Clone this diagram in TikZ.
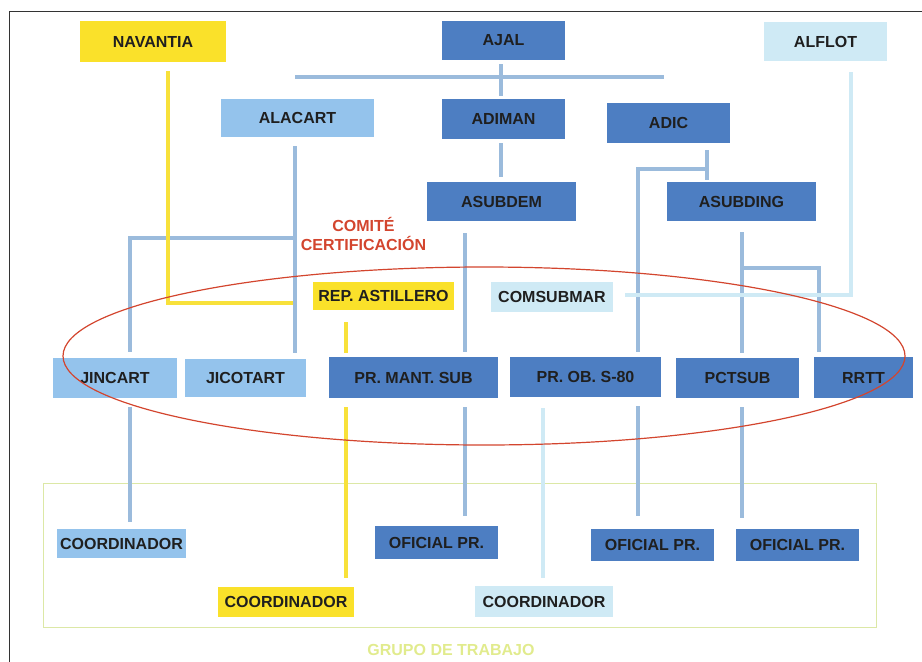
\documentclass[tikz,border=0pt]{standalone}
\usepackage{fontspec}
\setmainfont{Liberation Sans}

\definecolor{boxdark}{HTML}{4D7EC2}
\definecolor{boxlight}{HTML}{94C3EC}
\definecolor{boxpale}{HTML}{CFEAF5}
\definecolor{boxyellow}{HTML}{FAE12A}
\definecolor{linkblue}{HTML}{9BBBDC}
\definecolor{linkcyan}{HTML}{CFEAF5}
\definecolor{linkyellow}{HTML}{F8E13A}
\definecolor{comitered}{HTML}{D3452E}
\definecolor{grupogreen}{HTML}{DCE8A6}

\begin{document}
\begin{tikzpicture}[x=1pt,y=-1pt,
	box/.style={inner sep=0pt, font=\fontsize{16}{18.5}\selectfont\bfseries, text=black!88},
	dark/.style={box, fill=boxdark},
	light/.style={box, fill=boxlight},
	pale/.style={box, fill=boxpale},
	yell/.style={box, fill=boxyellow},
	conn/.style={draw=linkblue, line width=3.6pt},
	cconn/.style={draw=linkcyan, line width=3.6pt},
	yconn/.style={draw=linkyellow, line width=3.6pt}]
	\useasboundingbox (0,0) rectangle (922,662);
	\draw[black!80, line width=0.8pt] (922,11) -- (9,11) -- (9,662);

	% grupo de trabajo
	\draw[grupogreen, line width=0.9pt] (43,483) rectangle (876,627);
	\node[box, text=grupogreen!85!yellow] (grupo) at (451,650) {GRUPO DE TRABAJO};

	% columns of the connectors
	\coordinate (cJin) at (130,0);
	\coordinate (cNav) at (168,0);
	\coordinate (cAla) at (295,0);
	\coordinate (cRep) at (346,0);
	\coordinate (cDem) at (465,0);
	\coordinate (cAjal) at (501,0);
	\coordinate (cCom) at (543,0);
	\coordinate (cAdic) at (638,0);
	\coordinate (cDic) at (707,0);
	\coordinate (cIng) at (742,0);
	\coordinate (cRr) at (819,0);
	\coordinate (cAlf) at (851,0);

	% top row
	\node[yell, minimum width=146, minimum height=41] (navantia) at (153,41.5) {NAVANTIA};
	\node[dark, minimum width=123, minimum height=39] (ajal) at (503.5,40.5) {AJAL};
	\node[pale, minimum width=123, minimum height=39] (alflot) at (825.5,41.5) {ALFLOT};

	\node[light, minimum width=153, minimum height=38] (alacart) at (297.5,118) {ALACART};
	\node[dark, minimum width=123, minimum height=40] (adiman) at (503.5,119) {ADIMAN};
	\node[dark, minimum width=123, minimum height=40] (adic) at (668.5,123) {ADIC};

	\node[dark, minimum width=149, minimum height=39] (asubdem) at (501.5,201.5) {ASUBDEM};
	\node[dark, minimum width=149, minimum height=39] (asubding) at (741.5,201.5) {ASUBDING};

	\node[yell, minimum width=141, minimum height=28] (repast) at (383.5,296) {REP. ASTILLERO};
	\node[pale, minimum width=122, minimum height=30] (comsubmar) at (552,297) {COMSUBMAR};

	% middle row
	\node[light, minimum width=124, minimum height=40] (jincart) at (115,377.5) {JINCART};
	\node[light, minimum width=121, minimum height=38] (jicotart) at (245.5,377.5) {JICOTART};
	\node[dark, minimum width=169, minimum height=41] (prmant) at (413.5,377.5) {PR. MANT. SUB};
	\node[dark, minimum width=151, minimum height=40] (prob) at (585.5,377) {PR. OB. S-80};
	\node[dark, minimum width=123, minimum height=40] (pctsub) at (737.5,378) {PCTSUB};
	\node[dark, minimum width=99, minimum height=41] (rrtt) at (863.5,377.5) {RRTT};

	% bottom row
	\node[light, minimum width=129, minimum height=29] (coordA) at (121.5,543.5) {COORDINADOR};
	\node[dark, minimum width=123, minimum height=33] (oficialA) at (436.5,542.5) {OFICIAL PR.};
	\node[dark, minimum width=123, minimum height=32] (oficialB) at (652.5,545) {OFICIAL PR.};
	\node[dark, minimum width=123, minimum height=32] (oficialC) at (797.5,545) {OFICIAL PR.};
	\node[yell, minimum width=136, minimum height=30] (coordB) at (286,602) {COORDINADOR};
	\node[pale, minimum width=138, minimum height=31] (coordC) at (544,601.5) {COORDINADOR};

	% connectors
	\coordinate (barL) at (295,77);
	\coordinate (barR) at (664,77);
	\draw[conn] (barL) -- (barR);
	\draw[conn, shorten <=4, shorten >=3] (ajal.south -| cAjal) -- (adiman.north -| cAjal);
	\draw[conn, shorten <=4, shorten >=5] (adiman.south -| cAjal) -- (asubdem.north -| cAjal);

	\draw[conn, shorten <=7, shorten >=2] (adic.south -| cDic) -- (asubding.north -| cDic);
	\coordinate (brDic) at (707,169);
	\draw[conn, shorten >=5] (brDic) -| (prob.north -| cAdic);

	\draw[conn, shorten <=11, shorten >=5] (asubding.south -| cIng) -- (pctsub.north -| cIng);
	\coordinate (brIng) at (742,268);
	\draw[conn, shorten >=5] (brIng) -| (rrtt.north -| cRr);

	\coordinate (endAlf) at (625,295);
	\draw[cconn, shorten <=11] (alflot.south -| cAlf) |- (endAlf);

	\draw[conn, shorten <=12, shorten >=5] (asubdem.south -| cDem) -- (prmant.north -| cDem);

	\draw[conn, shorten <=9, shorten >=5] (alacart.south -| cAla) -- (jicotart.north -| cAla);
	\coordinate (brAla) at (295,238);
	\draw[conn, shorten >=5] (brAla) -| (jincart.north -| cJin);

	\coordinate (endNav) at (293,303);
	\draw[yconn, shorten <=9] (navantia.south -| cNav) |- (endNav);
	\draw[yconn, shorten <=12, shorten >=4] (repast.south -| cRep) -- (prmant.north -| cRep);
	\draw[yconn, shorten <=9, shorten >=9] (prmant.south -| cRep) -- (coordB.north -| cRep);

	\draw[conn, shorten <=9, shorten >=7] (jincart.south -| cJin) -- (coordA.north -| cJin);
	\draw[conn, shorten <=9, shorten >=10] (prmant.south -| cDem) -- (oficialA.north -| cDem);
	\draw[cconn, shorten <=11, shorten >=8] (prob.south -| cCom) -- (coordC.north -| cCom);
	\draw[conn, shorten <=9, shorten >=13] (prob.south -| cAdic) -- (oficialB.north -| cAdic);
	\draw[conn, shorten <=9, shorten >=11] (pctsub.south -| cIng) -- (oficialC.north -| cIng);

	% comite de certificacion
	\draw[comitered, line width=1.2pt] (484,356) ellipse [x radius=421, y radius=89];
	\node[box, text=comitered, align=center] (comite) at (363.5,234) {COMITÉ\\CERTIFICACIÓN};
\end{tikzpicture}
\end{document}
